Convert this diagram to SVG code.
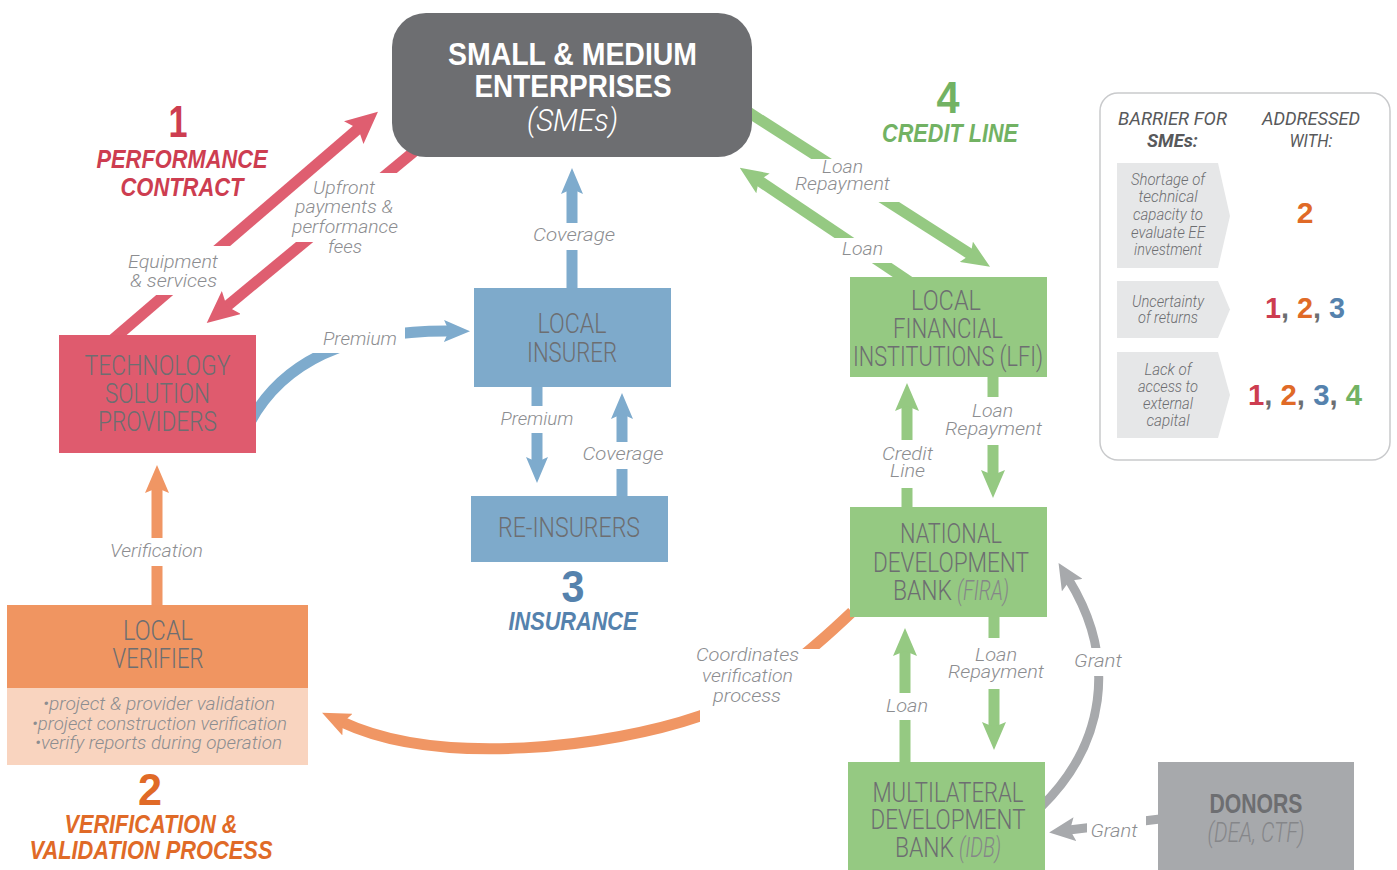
<svg xmlns="http://www.w3.org/2000/svg" width="1397" height="870" viewBox="0 0 1397 870">
<style>
.bx{font-family:Roboto,"Liberation Sans",sans-serif;font-weight:300;fill:#6d6e71;text-anchor:middle;font-size:28px}
.bi{font-family:Roboto,"Liberation Sans",sans-serif;font-weight:300;font-style:italic;fill:#858689;text-anchor:middle;font-size:28px}
.lb{font-family:Roboto,"Liberation Sans",sans-serif;font-weight:300;font-style:italic;fill:#8c8d90;text-anchor:middle;font-size:19px}
.tt{font-family:"Liberation Sans",Arial,sans-serif;font-weight:bold;font-style:italic;text-anchor:middle;font-size:25px}
.num{font-family:"Liberation Sans",Arial,sans-serif;font-weight:bold;text-anchor:middle;font-size:44px}
.lg{font-family:Roboto,"Liberation Sans",sans-serif;font-weight:300;font-style:italic;fill:#6d6e71;text-anchor:middle;font-size:16px}
.lh{font-family:Roboto,"Liberation Sans",sans-serif;font-style:italic;fill:#58595b;text-anchor:middle;font-size:19px}
.ln{font-family:"Liberation Sans",Arial,sans-serif;font-weight:bold;text-anchor:middle;font-size:30px;fill:#6d6e71}
.cr{fill:none;stroke:#df5e70;stroke-width:11}
.cg{fill:none;stroke:#95c982;stroke-width:11}
.cb{fill:none;stroke:#7eabcd;stroke-width:11}
.co{fill:none;stroke:#f09664;stroke-width:11}
.cy{fill:none;stroke:#a7a9ac;stroke-width:9}
.red{fill:#cd3d50}.org{fill:#e06a27}.blu{fill:#5582ad}.grn{fill:#72b263}
</style>
<defs>
<marker id="ar" markerUnits="userSpaceOnUse" viewBox="0 0 32 30" markerWidth="32" markerHeight="30" refX="7" refY="15" orient="auto"><path d="M0,0 L32,15 L0,30 L6,15 Z" fill="#df5e70"/></marker>
<marker id="ag" markerUnits="userSpaceOnUse" viewBox="0 0 28 24" markerWidth="28" markerHeight="24" refX="6" refY="12" orient="auto"><path d="M0,0 L28,12 L0,24 L5,12 Z" fill="#95c982"/></marker>
<marker id="ab" markerUnits="userSpaceOnUse" viewBox="0 0 26 22" markerWidth="26" markerHeight="22" refX="5" refY="11" orient="auto"><path d="M0,0 L26,11 L0,22 L5,11 Z" fill="#7eabcd"/></marker>
<marker id="ao" markerUnits="userSpaceOnUse" viewBox="0 0 28 24" markerWidth="28" markerHeight="24" refX="6" refY="12" orient="auto"><path d="M0,0 L28,12 L0,24 L5,12 Z" fill="#f09664"/></marker>
<marker id="ay" markerUnits="userSpaceOnUse" viewBox="0 0 26 24" markerWidth="26" markerHeight="24" refX="6" refY="12" orient="auto"><path d="M0,0 L26,12 L0,24 L5,12 Z" fill="#a7a9ac"/></marker>
<mask id="m1" maskUnits="userSpaceOnUse" x="0" y="0" width="1397" height="870"><rect width="1397" height="870" fill="#fff"/><rect x="120" y="246" width="120" height="49" fill="#000"/></mask>
<mask id="m2" maskUnits="userSpaceOnUse" x="0" y="0" width="1397" height="870"><rect width="1397" height="870" fill="#fff"/><rect x="270" y="173" width="150" height="69" fill="#000"/></mask>
<mask id="m3" maskUnits="userSpaceOnUse" x="0" y="0" width="1397" height="870"><rect width="1397" height="870" fill="#fff"/><rect x="770" y="159" width="150" height="43" fill="#000"/></mask>
<mask id="m4" maskUnits="userSpaceOnUse" x="0" y="0" width="1397" height="870"><rect width="1397" height="870" fill="#fff"/><rect x="800" y="238" width="120" height="25" fill="#000"/></mask>
<mask id="m5" maskUnits="userSpaceOnUse" x="0" y="0" width="1397" height="870"><rect width="1397" height="870" fill="#fff"/><rect x="880" y="440" width="55" height="48" fill="#000"/></mask>
<mask id="m6" maskUnits="userSpaceOnUse" x="0" y="0" width="1397" height="870"><rect width="1397" height="870" fill="#fff"/><rect x="965" y="397" width="55" height="48" fill="#000"/></mask>
<mask id="m7" maskUnits="userSpaceOnUse" x="0" y="0" width="1397" height="870"><rect width="1397" height="870" fill="#fff"/><rect x="880" y="693" width="55" height="27" fill="#000"/></mask>
<mask id="m8" maskUnits="userSpaceOnUse" x="0" y="0" width="1397" height="870"><rect width="1397" height="870" fill="#fff"/><rect x="965" y="638" width="55" height="51" fill="#000"/></mask>
<mask id="m9" maskUnits="userSpaceOnUse" x="0" y="0" width="1397" height="870"><rect width="1397" height="870" fill="#fff"/><rect x="550" y="223" width="45" height="27" fill="#000"/></mask>
<mask id="m10" maskUnits="userSpaceOnUse" x="0" y="0" width="1397" height="870"><rect width="1397" height="870" fill="#fff"/><rect x="515" y="406" width="45" height="27" fill="#000"/></mask>
<mask id="m11" maskUnits="userSpaceOnUse" x="0" y="0" width="1397" height="870"><rect width="1397" height="870" fill="#fff"/><rect x="600" y="442" width="45" height="27" fill="#000"/></mask>
<mask id="m12" maskUnits="userSpaceOnUse" x="0" y="0" width="1397" height="870"><rect width="1397" height="870" fill="#fff"/><rect x="280" y="290" width="125" height="63" fill="#000"/></mask>
<mask id="m13" maskUnits="userSpaceOnUse" x="0" y="0" width="1397" height="870"><rect width="1397" height="870" fill="#fff"/><rect x="135" y="538" width="45" height="28" fill="#000"/></mask>
<mask id="m14" maskUnits="userSpaceOnUse" x="0" y="0" width="1397" height="870"><rect width="1397" height="870" fill="#fff"/><rect x="700" y="649" width="140" height="96" fill="#000"/></mask>
<mask id="m15" maskUnits="userSpaceOnUse" x="0" y="0" width="1397" height="870"><rect width="1397" height="870" fill="#fff"/><rect x="1070" y="648" width="60" height="28" fill="#000"/></mask>
<mask id="m16" maskUnits="userSpaceOnUse" x="0" y="0" width="1397" height="870"><rect width="1397" height="870" fill="#fff"/><rect x="1087" y="800" width="59" height="50" fill="#000"/></mask>
</defs>
<rect width="1397" height="870" fill="#fff"/>

<g id="connectors">
<path class="cr" d="M110,342 L359,128" mask="url(#m1)" marker-end="url(#ar)"/>
<path class="cr" d="M422,145 L226,307" mask="url(#m2)" marker-end="url(#ar)"/>
<path class="cg" d="M745,110 L971.5,255" mask="url(#m3)" marker-end="url(#ag)"/>
<path class="cg" d="M910,282 L758,180" mask="url(#m4)" marker-end="url(#ag)"/>
<path class="cg" d="M907,510 L907,405" mask="url(#m5)" marker-end="url(#ag)"/>
<path class="cg" d="M993,375 L993,476" mask="url(#m6)" marker-end="url(#ag)"/>
<path class="cg" d="M905,765 L905,650" mask="url(#m7)" marker-end="url(#ag)"/>
<path class="cg" d="M994,615 L994,728" mask="url(#m8)" marker-end="url(#ag)"/>
<path class="cb" d="M572,290 L572,189" mask="url(#m9)" marker-end="url(#ab)"/>
<path class="cb" d="M537,385 L537,462" mask="url(#m10)" marker-end="url(#ab)"/>
<path class="cb" d="M622,498 L622,414" mask="url(#m11)" marker-end="url(#ab)"/>
<path class="cb" d="M250,422 Q300,330 449,331" mask="url(#m12)" marker-end="url(#ab)"/>
<path class="co" d="M157,607 L157,487" mask="url(#m13)" marker-end="url(#ao)"/>
<path class="co" d="M852,612 C810,652 760,695 700,716 C610,747 440,768 342,722" mask="url(#m14)" marker-end="url(#ao)"/>
<path class="cy" d="M1040,808 C1105,745 1118,660 1069,580" mask="url(#m15)" marker-end="url(#ay)"/>
<path class="cy" d="M1160,819 L1069,830" mask="url(#m16)" marker-end="url(#ay)"/>
</g>

<g id="connector-labels">
<text class="lb" x="173" y="268" textLength="90" lengthAdjust="spacingAndGlyphs">Equipment</text>
<text class="lb" x="173.5" y="287" textLength="87" lengthAdjust="spacingAndGlyphs">&amp; services</text>
<text class="lb" x="344" y="194" textLength="62" lengthAdjust="spacingAndGlyphs">Upfront</text>
<text class="lb" x="344" y="213" textLength="98" lengthAdjust="spacingAndGlyphs">payments &amp;</text>
<text class="lb" x="345" y="233" textLength="106" lengthAdjust="spacingAndGlyphs">performance</text>
<text class="lb" x="345" y="253" textLength="34" lengthAdjust="spacingAndGlyphs">fees</text>
<text class="lb" x="360" y="345" textLength="74" lengthAdjust="spacingAndGlyphs">Premium</text>
<text class="lb" x="574" y="241" textLength="82" lengthAdjust="spacingAndGlyphs">Coverage</text>
<text class="lb" x="537" y="425" textLength="73" lengthAdjust="spacingAndGlyphs">Premium</text>
<text class="lb" x="623" y="460" textLength="81" lengthAdjust="spacingAndGlyphs">Coverage</text>
<text class="lb" x="842.5" y="173" textLength="41" lengthAdjust="spacingAndGlyphs">Loan</text>
<text class="lb" x="842.5" y="190" textLength="95" lengthAdjust="spacingAndGlyphs">Repayment</text>
<text class="lb" x="862.5" y="255" textLength="41" lengthAdjust="spacingAndGlyphs">Loan</text>
<text class="lb" x="907.5" y="460" textLength="51" lengthAdjust="spacingAndGlyphs">Credit</text>
<text class="lb" x="907.5" y="477" textLength="35" lengthAdjust="spacingAndGlyphs">Line</text>
<text class="lb" x="992.5" y="417" textLength="41" lengthAdjust="spacingAndGlyphs">Loan</text>
<text class="lb" x="993.5" y="435" textLength="97" lengthAdjust="spacingAndGlyphs">Repayment</text>
<text class="lb" x="907" y="712" textLength="42" lengthAdjust="spacingAndGlyphs">Loan</text>
<text class="lb" x="996" y="661" textLength="42" lengthAdjust="spacingAndGlyphs">Loan</text>
<text class="lb" x="996" y="678" textLength="96" lengthAdjust="spacingAndGlyphs">Repayment</text>
<text class="lb" x="1098" y="667" textLength="48" lengthAdjust="spacingAndGlyphs">Grant</text>
<text class="lb" x="1114" y="837" textLength="47" lengthAdjust="spacingAndGlyphs">Grant</text>
<text class="lb" x="156.5" y="557" textLength="93" lengthAdjust="spacingAndGlyphs">Verification</text>
<text class="lb" x="747.5" y="661" textLength="103" lengthAdjust="spacingAndGlyphs">Coordinates</text>
<text class="lb" x="747.5" y="682" textLength="91" lengthAdjust="spacingAndGlyphs">verification</text>
<text class="lb" x="747" y="702" textLength="68" lengthAdjust="spacingAndGlyphs">process</text>
</g>

<g id="sme">
<rect x="392" y="13" width="360" height="144" rx="34" fill="#6d6e71"/>
<text x="572.5" y="65" textLength="249" lengthAdjust="spacingAndGlyphs" style="font-family:'Liberation Sans',Arial,sans-serif;font-weight:bold;font-size:32px;fill:#fff;text-anchor:middle">SMALL &amp; MEDIUM</text>
<text x="573" y="97" textLength="197" lengthAdjust="spacingAndGlyphs" style="font-family:'Liberation Sans',Arial,sans-serif;font-weight:bold;font-size:32px;fill:#fff;text-anchor:middle">ENTERPRISES</text>
<text x="572.5" y="131" textLength="91" lengthAdjust="spacingAndGlyphs" style="font-family:Roboto,'Liberation Sans',sans-serif;font-weight:300;font-style:italic;font-size:32px;fill:#fff;text-anchor:middle">(SMEs)</text>
</g>

<g id="technology-solution-providers">
<rect x="59" y="335" width="197" height="118" fill="#df5b6e"/>
<text class="bx" x="157.5" y="375" font-size="30" textLength="146" lengthAdjust="spacingAndGlyphs">TECHNOLOGY</text>
<text class="bx" x="157.5" y="403" font-size="30" textLength="105" lengthAdjust="spacingAndGlyphs">SOLUTION</text>
<text class="bx" x="157.5" y="431" font-size="30" textLength="119" lengthAdjust="spacingAndGlyphs">PROVIDERS</text>
</g>

<g id="local-insurer">
<rect x="474" y="288" width="197" height="99" fill="#7eaacb"/>
<text class="bx" x="572" y="333" textLength="69" lengthAdjust="spacingAndGlyphs">LOCAL</text>
<text class="bx" x="572" y="362" textLength="90" lengthAdjust="spacingAndGlyphs">INSURER</text>
</g>

<g id="re-insurers">
<rect x="471" y="496" width="197" height="66" fill="#7eaacb"/>
<text class="bx" x="569" y="537" textLength="142" lengthAdjust="spacingAndGlyphs">RE-INSURERS</text>
</g>

<g id="local-financial-institutions">
<rect x="850" y="277" width="197" height="100" fill="#95c982"/>
<text class="bx" x="946" y="310" textLength="70" lengthAdjust="spacingAndGlyphs">LOCAL</text>
<text class="bx" x="948" y="338" textLength="110" lengthAdjust="spacingAndGlyphs">FINANCIAL</text>
<text class="bx" x="948" y="366" textLength="190" lengthAdjust="spacingAndGlyphs">INSTITUTIONS (LFI)</text>
</g>

<g id="national-development-bank">
<rect x="850" y="507" width="197" height="110" fill="#95c982"/>
<text class="bx" x="951" y="543" textLength="102" lengthAdjust="spacingAndGlyphs">NATIONAL</text>
<text class="bx" x="951" y="572" textLength="156" lengthAdjust="spacingAndGlyphs">DEVELOPMENT</text>
<text class="bx" x="922.5" y="600" textLength="59" lengthAdjust="spacingAndGlyphs">BANK</text>
<text class="bi" x="983" y="600" textLength="52" lengthAdjust="spacingAndGlyphs">(FIRA)</text>
</g>

<g id="multilateral-development-bank">
<rect x="848" y="762" width="197" height="108" fill="#95c982"/>
<text class="bx" x="948" y="802" textLength="151" lengthAdjust="spacingAndGlyphs">MULTILATERAL</text>
<text class="bx" x="948" y="829" textLength="155" lengthAdjust="spacingAndGlyphs">DEVELOPMENT</text>
<text class="bx" x="924.5" y="857" textLength="59" lengthAdjust="spacingAndGlyphs">BANK</text>
<text class="bi" x="980" y="857" textLength="42" lengthAdjust="spacingAndGlyphs">(IDB)</text>
</g>

<g id="donors">
<rect x="1158" y="762" width="196" height="108" fill="#a7a9ac"/>
<text x="1256" y="813" textLength="93" lengthAdjust="spacingAndGlyphs" style="font-family:'Liberation Sans',Arial,sans-serif;font-weight:bold;font-size:28px;fill:#6d6e71;text-anchor:middle">DONORS</text>
<text class="bi" x="1256" y="842" textLength="97" lengthAdjust="spacingAndGlyphs">(DEA, CTF)</text>
</g>

<g id="local-verifier">
<rect x="7" y="605" width="301" height="83" fill="#f09561"/>
<rect x="7" y="688" width="301" height="77" fill="#f9d4bf"/>
<text class="bx" x="158" y="640" font-size="27" textLength="70" lengthAdjust="spacingAndGlyphs">LOCAL</text>
<text class="bx" x="158" y="668" font-size="27" textLength="91" lengthAdjust="spacingAndGlyphs">VERIFIER</text>
<text class="lb" x="159" y="710" textLength="232" lengthAdjust="spacingAndGlyphs">•project &amp; provider validation</text>
<text class="lb" x="159.5" y="730" textLength="255" lengthAdjust="spacingAndGlyphs">•project construction verification</text>
<text class="lb" x="158.5" y="749" textLength="247" lengthAdjust="spacingAndGlyphs">•verify reports during operation</text>
</g>

<g id="titles">
<text class="num red" x="178" y="137" textLength="19" lengthAdjust="spacingAndGlyphs">1</text>
<text class="tt red" x="182" y="168" textLength="171" lengthAdjust="spacingAndGlyphs">PERFORMANCE</text>
<text class="tt red" x="182" y="196" textLength="123" lengthAdjust="spacingAndGlyphs">CONTRACT</text>
<text class="num org" x="150" y="805" textLength="24" lengthAdjust="spacingAndGlyphs">2</text>
<text class="tt org" x="151" y="833" textLength="173" lengthAdjust="spacingAndGlyphs">VERIFICATION &amp;</text>
<text class="tt org" x="151" y="859" textLength="243" lengthAdjust="spacingAndGlyphs">VALIDATION PROCESS</text>
<text class="num blu" x="573" y="602" textLength="23" lengthAdjust="spacingAndGlyphs">3</text>
<text class="tt blu" x="573" y="630" textLength="129" lengthAdjust="spacingAndGlyphs">INSURANCE</text>
<text class="num grn" x="948" y="113" font-size="46" textLength="23" lengthAdjust="spacingAndGlyphs">4</text>
<text class="tt grn" x="950" y="142" textLength="136" lengthAdjust="spacingAndGlyphs">CREDIT LINE</text>
</g>

<g id="legend">
<rect x="1100" y="93" width="290" height="367" rx="18" fill="#fff" stroke="#c9cacc" stroke-width="1.5"/>
<text class="lh" x="1172.5" y="125" textLength="109" lengthAdjust="spacingAndGlyphs">BARRIER FOR</text>
<text class="lh" x="1172.5" y="147" textLength="51" lengthAdjust="spacingAndGlyphs" style="font-weight:bold">SMEs:</text>
<text class="lh" x="1311" y="125" textLength="98" lengthAdjust="spacingAndGlyphs">ADDRESSED</text>
<text class="lh" x="1311" y="147" textLength="43" lengthAdjust="spacingAndGlyphs">WITH:</text>
<path d="M1117,163 H1218 L1230,216 L1218,268 H1117 Z" fill="#e6e7e8"/>
<path d="M1117,281 H1218 L1230,309.5 L1218,338 H1117 Z" fill="#e6e7e8"/>
<path d="M1117,352 H1218 L1230,395 L1218,438 H1117 Z" fill="#e6e7e8"/>
<text class="lg" x="1168" y="185" textLength="74" lengthAdjust="spacingAndGlyphs">Shortage of</text>
<text class="lg" x="1168" y="202" textLength="59" lengthAdjust="spacingAndGlyphs">technical</text>
<text class="lg" x="1168" y="220" textLength="70" lengthAdjust="spacingAndGlyphs">capacity to</text>
<text class="lg" x="1168" y="238" textLength="74" lengthAdjust="spacingAndGlyphs">evaluate EE</text>
<text class="lg" x="1168" y="255" textLength="68" lengthAdjust="spacingAndGlyphs">investment</text>
<text class="lg" x="1168" y="307" textLength="72" lengthAdjust="spacingAndGlyphs">Uncertainty</text>
<text class="lg" x="1168" y="323" textLength="60" lengthAdjust="spacingAndGlyphs">of returns</text>
<text class="lg" x="1168" y="375" textLength="47" lengthAdjust="spacingAndGlyphs">Lack of</text>
<text class="lg" x="1168" y="392" textLength="60" lengthAdjust="spacingAndGlyphs">access to</text>
<text class="lg" x="1168" y="409" textLength="50" lengthAdjust="spacingAndGlyphs">external</text>
<text class="lg" x="1168" y="426" textLength="43" lengthAdjust="spacingAndGlyphs">capital</text>
<text class="ln org" x="1305" y="223">2</text>
<text class="ln" x="1305" y="318" textLength="80" lengthAdjust="spacingAndGlyphs"><tspan class="red">1</tspan>, <tspan class="org">2</tspan>, <tspan class="blu">3</tspan></text>
<text class="ln" x="1305" y="405" textLength="114" lengthAdjust="spacingAndGlyphs"><tspan class="red">1</tspan>, <tspan class="org">2</tspan>, <tspan class="blu">3</tspan>, <tspan class="grn">4</tspan></text>
</g>
</svg>
